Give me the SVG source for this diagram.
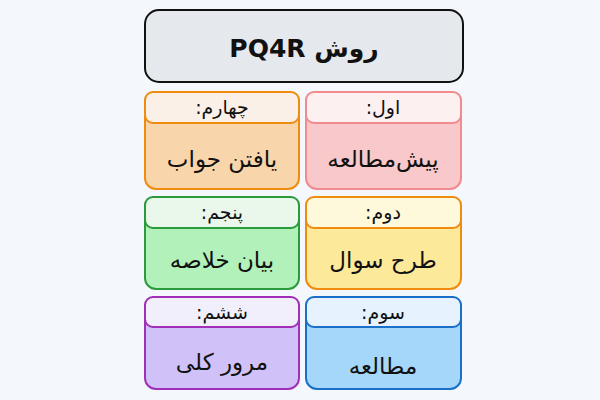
<svg xmlns="http://www.w3.org/2000/svg" width="600" height="400" viewBox="0 0 600 400">
<style>
text{font-family:"DejaVu Sans","Noto Sans",sans-serif;text-anchor:middle;fill:#111;direction:rtl}
.t{font-size:25px;font-weight:bold}
.h{font-size:19px}
.b{font-size:23px}
.o{stroke-width:2}
</style>
<rect width="600" height="400" fill="#f4f8fc"/>
<g id="title">
<rect x="145" y="10" width="318" height="72" rx="14" fill="#e5e8ec" stroke="#111" stroke-width="2"/>
<text class="t" x="304" y="57">روش PQ4R</text>
</g>
<g id="n1">
<rect class="o" x="306" y="92" width="155" height="97" rx="11" fill="#f8c8ca" stroke="#f28b8b"/>
<rect class="o" x="306" y="92" width="155" height="31" rx="8" fill="#fdf0f1" stroke="#f28b8b"/>
<text class="h" x="383" y="114">اول:</text>
<text class="b" x="383" y="167">پیش‌مطالعه</text>
</g>
<g id="n4">
<rect class="o" x="145" y="92" width="154" height="97" rx="11" fill="#f8d5aa" stroke="#ef8c10"/>
<rect class="o" x="145" y="92" width="154" height="31" rx="8" fill="#faf0e8" stroke="#ef8c10"/>
<text class="h" x="222" y="114">چهارم:</text>
<text class="b" x="222" y="167">یافتن جواب</text>
</g>
<g id="n2">
<rect class="o" x="306" y="197" width="155" height="92" rx="11" fill="#fde99a" stroke="#ef8c10"/>
<rect class="o" x="306" y="197" width="155" height="31" rx="8" fill="#fff9dc" stroke="#ef8c10"/>
<text class="h" x="383" y="219">دوم:</text>
<text class="b" x="383" y="268">طرح سوال</text>
</g>
<g id="n5">
<rect class="o" x="145" y="197" width="154" height="92" rx="11" fill="#b2f1ba" stroke="#2a9a3a"/>
<rect class="o" x="145" y="197" width="154" height="31" rx="8" fill="#eaf8ec" stroke="#2a9a3a"/>
<text class="h" x="222" y="219">پنجم:</text>
<text class="b" x="222" y="268">بیان خلاصه</text>
</g>
<g id="n3">
<rect class="o" x="306" y="297" width="155" height="92" rx="11" fill="#a5d7fb" stroke="#1a6fc8"/>
<rect class="o" x="306" y="297" width="155" height="30" rx="8" fill="#e6f3fe" stroke="#1a6fc8"/>
<text class="h" x="383" y="319">سوم:</text>
<text class="b" x="383" y="374">مطالعه</text>
</g>
<g id="n6">
<rect class="o" x="145" y="297" width="154" height="92" rx="11" fill="#d0c1f8" stroke="#a030b8"/>
<rect class="o" x="145" y="297" width="154" height="30" rx="8" fill="#f2effd" stroke="#a030b8"/>
<text class="h" x="222" y="319">ششم:</text>
<text class="b" x="222" y="370">مرور کلی</text>
</g>
</svg>
